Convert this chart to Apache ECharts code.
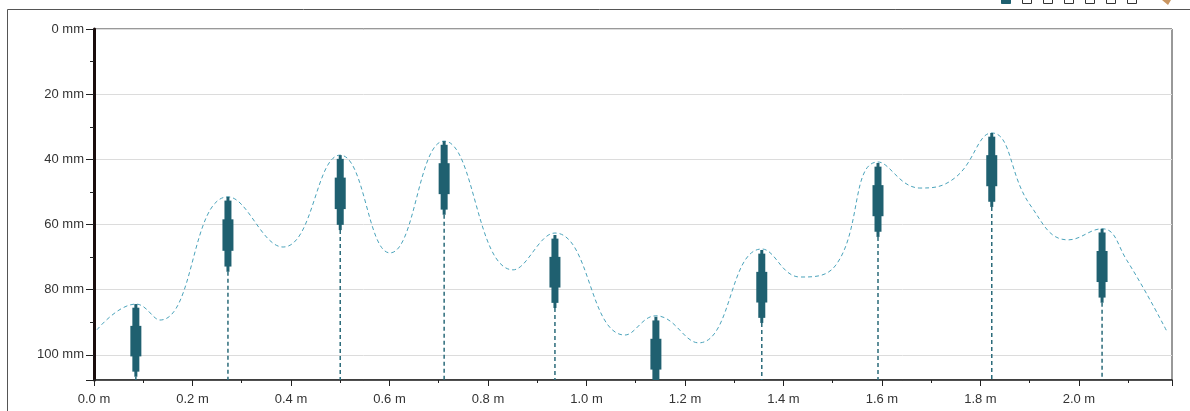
<!DOCTYPE html>
<html>
<head>
<meta charset="utf-8">
<script src="https://cdn.jsdelivr.net/npm/echarts@6/dist/echarts.min.js"></script>
<style>
html,body{margin:0;padding:0;background:#fff;}
#chart{width:1190px;height:411px;}
</style>
</head>
<body>
<div id="chart"></div>
<script>
// Post glyphs: position (m), top depth (mm), bottom depth (mm)
const postX = [0.085, 0.272, 0.500, 0.711, 0.936, 1.141, 1.356, 1.592, 1.823, 2.047];
const postTop = [84.4, 51.5, 38.7, 34.4, 63.2, 88.3, 67.8, 41.1, 31.9, 61.3];
const postBottom = [106.7, 74.5, 61.7, 57.0, 85.6, 110.8, 90.2, 63.8, 54.6, 84.0];

// Dashed profile curve
const curveX = [0.006, 0.085, 0.134, 0.272, 0.384, 0.500, 0.601, 0.711, 0.851, 0.936, 1.078, 1.141, 1.228, 1.356, 1.434, 1.505, 1.592, 1.677, 1.748, 1.823, 1.901, 1.978, 2.047, 2.097, 2.179];
const curveY = [92.3, 84.4, 89.3, 51.5, 66.9, 38.7, 68.7, 34.4, 73.9, 62.6, 93.9, 88.0, 96.3, 67.5, 76.1, 72.7, 40.8, 48.8, 45.7, 31.9, 54.0, 64.7, 61.3, 70.9, 92.9];

// Axis ticks
const xMin = 0, xMax = 2.189, xStep = 0.2;
const yMin = 0, yMax = 107.7, yStep = 20;

const chart = echarts.init(document.getElementById('chart'));
const FONT = 'Liberation Sans, Arial, sans-serif';
const isMult = (v, s) => Math.abs(v / s - Math.round(v / s)) < 1e-6;

const legendGraphics = [];
for (let i = 0; i < 7; i++) {
  legendGraphics.push({
    type: 'rect', silent: true,
    shape: { x: 1001.5 + i * 21, y: -5.5, width: 9, height: 9 },
    style: { fill: i === 0 ? '#1f6070' : '#fff', stroke: i === 0 ? '#1f6070' : '#333', lineWidth: 1 }
  });
}

chart.setOption({
  animation: false,
  backgroundColor: '#fff',
  grid: { left: 94, right: 18, top: 29, bottom: 31, show: true, borderColor: '#333', borderWidth: 1, backgroundColor: '#fff' },
  graphic: [
    { type: 'rect', silent: true, shape: { x: 7.5, y: 9.5, width: 1300, height: 600 }, style: { fill: 'none', stroke: '#555', lineWidth: 1 } },
    ...legendGraphics,
    { type: 'polygon', silent: true, shape: { points: [[1162, 0], [1171, 0], [1168, 5]] }, style: { fill: '#c99560' } }
  ],
  xAxis: {
    type: 'value', min: xMin, max: xMax, interval: xStep,
    axisLine: { show: true, onZero: false, lineStyle: { color: '#222', width: 1.5 } },
    axisTick: { show: true, length: 6, lineStyle: { color: '#222', width: 1 } },
    minorTick: { show: true, splitNumber: 2, length: 3, lineStyle: { color: '#222' } },
    splitLine: { show: false },
    axisLabel: {
      color: '#333', fontSize: 13, fontFamily: FONT, margin: 13,
      formatter: v => isMult(v, xStep) ? v.toFixed(1) + ' m' : ''
    }
  },
  yAxis: {
    type: 'value', inverse: true, min: yMin, max: yMax, interval: yStep,
    axisLine: { show: true, onZero: false, lineStyle: { color: '#1a0d0d', width: 3 } },
    axisTick: { show: true, length: 8, lineStyle: { color: '#222', width: 1 } },
    minorTick: { show: true, splitNumber: 2, length: 4, lineStyle: { color: '#222' } },
    splitLine: { show: true, lineStyle: { color: '#dcdcdc', width: 1 } },
    axisLabel: {
      color: '#333', fontSize: 13, fontFamily: FONT, margin: 10,
      formatter: v => isMult(v, yStep) ? v + ' mm' : ''
    }
  },
  series: [
    {
      type: 'line', smooth: 0.45, symbol: 'none',
      data: curveX.map((x, i) => [x, curveY[i]]),
      lineStyle: { color: '#4aa3bb', width: 1, type: [4, 3] },
      z: 2
    },
    {
      type: 'custom', clip: true, z: 3,
      data: postX.map((x, i) => [x, postTop[i], postBottom[i]]),
      encode: { x: 0, y: [1, 2] },
      renderItem: function (params, api) {
        const x = api.value(0), t = api.value(1), b = api.value(2);
        const pt = api.coord([x, t]);
        const pb = api.coord([x, b]);
        const h = pb[1] - pt[1];
        const cs = params.coordSys;
        const axisBottom = cs.y + cs.height;
        const col = '#1f6070';
        return {
          type: 'group',
          children: [
            { type: 'line', shape: { x1: pt[0], y1: pb[1], x2: pt[0], y2: axisBottom }, style: { stroke: '#2b6b7a', lineWidth: 1.5, lineDash: [4, 3] } },
            { type: 'rect', shape: { x: pt[0] - 1.5, y: pt[1], width: 3, height: h }, style: { fill: col } },
            { type: 'rect', shape: { x: pt[0] - 3.5, y: pt[1] + 0.05 * h, width: 7, height: 0.88 * h }, style: { fill: col } },
            { type: 'rect', shape: { x: pt[0] - 5.5, y: pt[1] + 0.3 * h, width: 11, height: 0.42 * h }, style: { fill: col } }
          ]
        };
      }
    }
  ]
});
</script>
</body>
</html>
